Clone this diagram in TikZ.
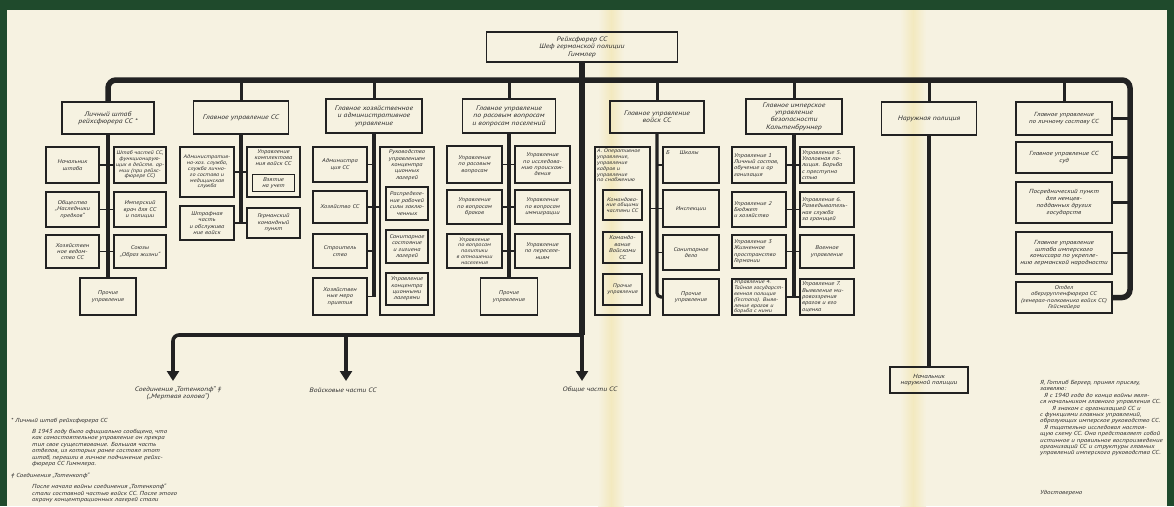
\documentclass[tikz,border=0pt]{standalone}
\usepackage{fontspec}
\setmainfont{PT Sans}[FakeStretch=1.2]
\usetikzlibrary{arrows.meta}
\definecolor{ln}{HTML}{222222}
\definecolor{tx}{HTML}{2C2C2C}
\definecolor{bg}{HTML}{F6F2E1}
\definecolor{grn}{HTML}{1F4A2C}
\definecolor{fold}{HTML}{F3E9BF}
\newcommand\myH{\fontsize{6.5}{7.4}\selectfont\itshape}
\newcommand\myM{\fontsize{5.9}{6.8}\selectfont\itshape}
\newcommand\myS{\fontsize{5.5}{6.4}\selectfont\itshape}
\newcommand\myT{\fontsize{5.2}{5.8}\selectfont\itshape}
\newcommand\myN{\fontsize{5.8}{6.4}\selectfont\itshape}
\newcommand\myL{\fontsize{6.4}{7.4}\selectfont\itshape}
\begin{document}
\begin{tikzpicture}[x=1pt,y=-1pt,
 sz/.style 2 args={minimum width=#1pt, minimum height=#2pt},
 box/.style={draw=ln, line width=1.2pt, inner sep=1pt, outer sep=0pt, align=center, font=\myS, text=tx},
 hbox/.style={box, font=\myH},
 lbox/.style={box, align=left, text width=50pt, inner xsep=2pt},
 ttl/.style={inner sep=0pt, align=center, font=\myS, text=tx, anchor=north},
 bus/.style={draw=ln, line width=5.5pt, rounded corners=8pt},
 branch/.style={draw=ln, line width=3pt},
 spine/.style={draw=ln, line width=3.2pt},
 stub/.style={draw=ln, line width=1.8pt},
 note/.style={inner sep=0pt, align=left, font=\myN, text=tx, anchor=north west},
 lab/.style={inner sep=0pt, align=center, font=\myL, text=tx},
 arr/.style={draw=ln, line width=3.6pt, -{Triangle[length=10pt,width=12pt]}},
]
\useasboundingbox (0,0) rectangle (1174,506);
\fill[grn] (0,0) rectangle (1174,506);
\fill[bg] (7,10) rectangle (1167,506);
\shade[left color=bg, right color=bg, middle color=fold] (598,10) rectangle (624,506);
\shade[left color=bg, right color=bg, middle color=fold] (900,10) rectangle (926,506);

% ---- top and header row
\node[hbox, sz={191}{30}] (top) at (582,47) {Рейхсфюрер СС\\Шеф германской полиции\\Гиммлер};
\node[hbox, sz={92}{32}] (h1) at (108,118) {Личный штаб\\рейхсфюрера СС *};
\node[hbox, sz={95}{33}] (h2) at (241,117.5) {Главное управление СС};
\node[hbox, sz={96}{34}] (h3) at (374,116) {Главное хозяйственное\\и административное\\управление};
\node[hbox, sz={93}{34}] (h4) at (509,116) {Главное управление\\по расовым вопросам\\и вопросам поселений};
\node[hbox, sz={94}{32}] (h5) at (657,117) {Главное управление\\войск СС};
\node[hbox, sz={96}{35}] (h6) at (794,116.5) {Главное имперское\\управление\\безопасности\\Кальтенбруннер};
\node[hbox, sz={95}{33}] (h7) at (929,118.5) {Наружная полиция};
\node[box, sz={96}{33}, font=\myM] (b1) at (1064,118.5) {Главное управление\\по личному составу СС};

% ---- column 1
\node[box, sz={53}{36}] (c1a) at (72.5,165) {Начальник\\штаба};
\node[box, sz={52}{36}, line width=1.7pt, font=\myT] (c1b) at (140,165) {Штаб частей СС,\\функционирую-\\щих в действ. ар-\\мии (при рейхс-\\фюрере СС)};
\node[box, sz={53}{35}] (c1c) at (72.5,209.5) {Общество\\„Наследники\\предков“};
\node[box, sz={52}{35}] (c1d) at (140,209.5) {Имперский\\врач для СС\\и полиции};
\node[box, sz={53}{33}] (c1e) at (72.5,251.5) {Хозяйствен\\ное ведом-\\ство СС};
\node[box, sz={52}{33}] (c1f) at (140,251.5) {Союзы\\„Образ жизни“};
\node[box, sz={56}{37}] (p1) at (108,296.5) {Прочие\\управления};

% ---- column 2
\node[box, sz={54}{50}, font=\myT] (c2a) at (207,172) {Административ-\\но-хоз. служба,\\служба лично-\\го состава и\\медицинская\\служба};
\node[box, sz={53}{50}] (c2b) at (273.5,172) {};
\node[ttl] (c2bt) at ([yshift=-2pt]c2b.north) {Управление\\комплектова\\ния войск СС};
\node[box, sz={42}{17}] (c2bi) at (273.5,183) {Взятие\\на учет};
\node[box, sz={54}{34}] (c2c) at (207,223) {Штрафная\\часть\\и обслужива\\ние войск};
\node[box, sz={53}{30}] (c2d) at (273.5,223) {Германский\\командный\\пункт};

% ---- column 3
\node[box, sz={54}{35}] (c3a) at (340,164.5) {Администра\\ция СС};
\node[box, sz={54}{32}] (c3b) at (340,207) {Хозяйство СС};
\node[box, sz={54}{34}] (c3c) at (340,251) {Строитель\\ство};
\node[box, sz={54}{37}] (c3d) at (340,296.5) {Хозяйствен\\ные меро\\приятия};
\node[box, sz={54}{168}] (c3e) at (407,231) {};
\node[ttl] (c3et) at ([yshift=-2.5pt]c3e.north) {Руководство\\управлением\\концентра\\ционных\\лагерей};
\node[box, sz={42}{33}] (c3f) at (407,203.5) {Распределе-\\ние рабочей\\силы заклю-\\ченных};
\node[box, sz={42}{33}] (c3g) at (407,246.5) {Санитарное\\состояние\\и гигиена\\лагерей};
\node[box, sz={42}{32}] (c3h) at (407,289) {Управление\\концентра\\ционными\\лагерями};

% ---- column 4
\node[box, sz={55}{37}] (c4a) at (474.5,164.5) {Управление\\по расовым\\вопросам};
\node[box, sz={55}{37}] (c4b) at (542.5,164.5) {Управление\\по исследова-\\нию происхож-\\дения};
\node[box, sz={55}{34}] (c4c) at (474.5,207) {Управление\\по вопросам\\браков};
\node[box, sz={55}{34}] (c4d) at (542.5,207) {Управление\\по вопросам\\иммиграции};
\node[box, sz={55}{34}, font=\myT] (c4e) at (474.5,251) {Управление\\по вопросам\\политики\\в отношении\\населения};
\node[box, sz={55}{34}] (c4f) at (542.5,251) {Управление\\по переселе-\\ниям};
\node[box, sz={57}{37}] (p4) at (509,296.5) {Прочие\\управления};

% ---- column 5
\node[box, sz={55}{168}] (c5a) at (622.5,231) {};
\node[ttl, align=left, anchor=north west, font=\myT] (c5at) at ([xshift=2pt,yshift=-2pt]c5a.north west) {А. Оперативное\\управление,\\управление\\кадров и\\управление\\по снабжению};
\node[box, sz={39}{30}, font=\myT] (c5b) at (622.5,205) {Командова-\\ние общими\\частями СС};
\node[box, sz={39}{31}] (c5c) at (622.5,247.5) {Командо-\\вание\\Войсками\\СС};
\node[box, sz={39}{31}, font=\myT] (c5d) at (622.5,289.5) {Прочие\\управления};
\node[box, sz={56}{36}] (c5e) at (691,165) {};
\node[ttl, anchor=north west] (c5et) at ([xshift=3pt,yshift=-3pt]c5e.north west) {Б\hspace{10pt}Школы};
\node[box, sz={56}{37}] (c5f) at (691,208.5) {Инспекции};
\node[box, sz={56}{35}] (c5g) at (691,252.5) {Санитарное\\дело};
\node[box, sz={56}{36}] (c5h) at (691,297) {Прочие\\управления};

% ---- column 6
\node[lbox, sz={54}{36}] (c6a) at (759,165) {Управление 1\\Личный состав,\\обучение и ор\\ганизация};
\node[lbox, sz={54}{36}] (c6b) at (827,165) {Управление 5.\\Уголовная по-\\лиция. Борьба\\с преступно\\стью};
\node[lbox, sz={54}{35}] (c6c) at (759,209.5) {Управление 2\\Бюджет\\и хозяйство};
\node[lbox, sz={54}{35}] (c6d) at (827,209.5) {Управление 6.\\Разведыватель-\\ная служба\\за границей};
\node[lbox, sz={54}{33}] (c6e) at (759,251.5) {Управление 3\\Жизненное\\пространство\\Германии};
\node[box, sz={54}{33}] (c6f) at (827,251.5) {Военное\\управление};
\node[lbox, sz={54}{36}, font=\myT] (c6g) at (759,297) {Управление 4.\\Тайная государст-\\венная полиция\\(Гестапо). Выяв-\\ление врагов и\\борьба с ними};
\node[lbox, sz={54}{36}] (c6h) at (827,297) {Управление 7.\\Выявление ми-\\ровоззрения\\врагов и его\\оценка};

% ---- column 7
\node[box, sz={78}{26}, font=\myM] (n7) at (929,380) {Начальник\\наружной полиции};

% ---- column 8
\node[box, sz={96}{31}, font=\myM] (b2) at (1064,157.5) {Главное управление СС\\суд};
\node[box, sz={96}{41}, font=\myM] (b3) at (1064,202.5) {Посреднический пункт\\для немцев-\\подданных других\\государств};
\node[box, sz={96}{42}, font=\myM] (b4) at (1064,253) {Главное управление\\штаба имперского\\комиссара по укрепле-\\нию германской народности};
\node[box, sz={96}{31}] (b5) at (1064,297.5) {Отдел\\обергруппенфюрера СС\\(генерал-полковника войск СС)\\Гейсмайера};

% ---- lower labels
\node[lab] (l1) at (178,393) {Соединения „Тотенкопф“ ‡\\(„Мертвая голова“)};
\node[lab] (l2) at (343,390) {Войсковые части СС};
\node[lab] (l3) at (590,390) {Общие части СС};

% ---- notes
\node[note] (f1) at (11,418) {* Личный штаб рейхсфюрера СС};
\node[note] (f1t) at (32,429) {В 1943 году было официально сообщено, что\\как самостоятельное управление он прекра\\тил свое существование. Большая часть\\отделов, из которых ранее состоял этот\\штаб, перешли в личное подчинение рейхс-\\фюрера СС Гиммлера.};
\node[note] (f2) at (11,473) {‡ Соединения „Тотенкопф“};
\node[note] (f2t) at (32,484) {После начала войны соединения „Тотенкопф“\\стали составной частью войск СС. После этого\\охрану концентрационных лагерей стали};
\node[note] (decl) at (1040,380) {Я, Готлиб Бергер, принял присягу,\\заявляю:\\\hspace*{4pt}Я с 1940 года до конца войны явля-\\ся начальником главного управления СС.\\\hspace*{12pt}Я знаком с организацией СС и\\с функциями главных управлений,\\образующих имперское руководство СС.\\\hspace*{4pt}Я тщательно исследовал настоя-\\щую схему СС. Она представляет собой\\истинное и правильное воспроизведение\\организаций СС и структуры главных\\управлений имперского руководства СС.};
\node[note] (udost) at (1040,490) {Удостоверено};

% ---- connectors
\coordinate (rc) at (1130,80);
\coordinate (lb) at (582,335);
\coordinate (e1) at (173,381);
\coordinate (e2) at (346,381);
\coordinate (e3) at (582,381);
\draw[bus] (h1.north) |- (rc) |- (b5.east);
\foreach \n in {h2,h3,h4,h5,h6,h7,b1} \draw[branch] (\n.north) -- (\n.north |- rc);
\draw[draw=ln, line width=6.5pt] (top.south) -- (lb);
\draw[arr, rounded corners=6pt] (lb) -| (e1);
\draw[arr] (e2 |- lb) -- (e2);
\draw[arr] (lb) -- (e3);

\draw[spine] (h1.south) -- (p1.north);
\foreach \a/\b in {c1a/c1b,c1c/c1d,c1e/c1f} \draw[stub] (\a.east) -- (\b.west);
\draw[spine] (h2.south) -- (h2.south |- c2c.east);
\foreach \a/\b in {c2a/c2b,c2c/c2d} \draw[stub] (\a.east) -- (\b.west);
\draw[spine] (h3.south) -- (h3.south |- c3d.east);
\foreach \a in {c3a,c3b,c3c,c3d} \draw[stub] (\a.east) -- (\a.east -| h3.south);
\draw[stub] (c3b.east) -- (c3b.east -| c3e.west);
\draw[spine] (h4.south) -- (p4.north);
\foreach \a/\b in {c4a/c4b,c4c/c4d,c4e/c4f} \draw[stub] (\a.east) -- (\b.west);
\draw[spine, rounded corners=4pt] (h5.south) |- (c5h.west);
\foreach \a in {c5e,c5f,c5g} \draw[stub] (\a.west) -- (\a.west -| h5.south);
\draw[stub] (c5a.east |- c5f.west) -- (c5f.west);
\draw[spine] (h6.south) -- (h6.south |- c6g.east);
\foreach \a/\b in {c6a/c6b,c6c/c6d,c6e/c6f,c6g/c6h} \draw[stub] (\a.east) -- (\b.west);
\draw[spine] (h7.south) -- (n7.north);
\foreach \n in {b1,b2,b3,b4} \draw[stub, line width=2.5pt] (\n.east) -- (\n.east -| rc);
\end{tikzpicture}
\end{document}
